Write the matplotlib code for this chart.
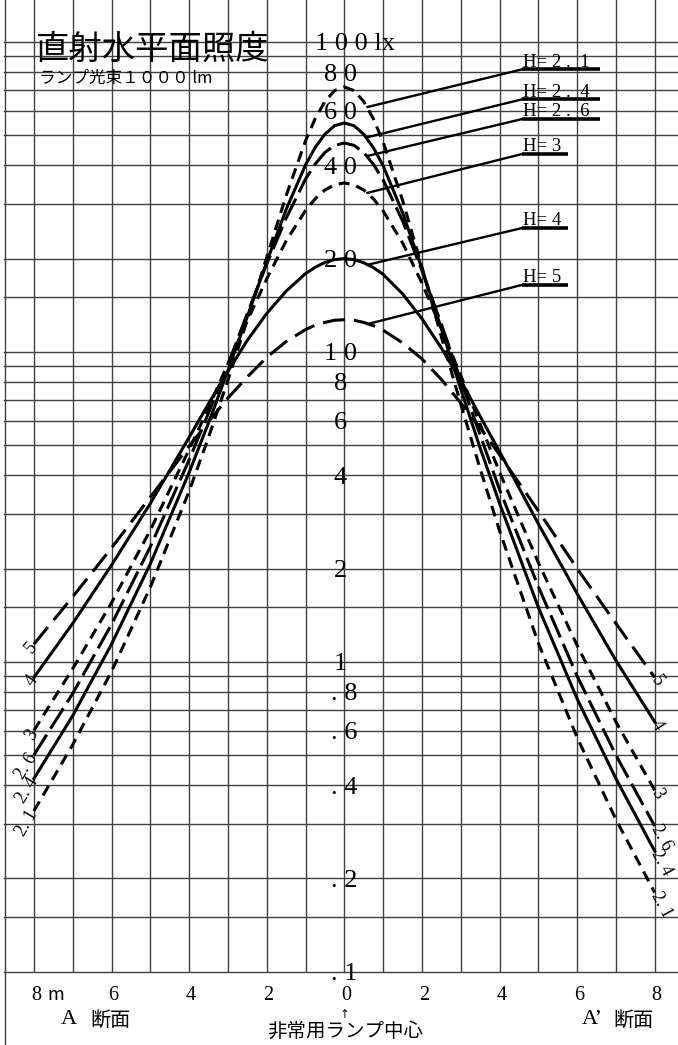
import math
import matplotlib.pyplot as plt
import matplotlib.transforms as mtrans
from matplotlib.lines import Line2D

# distance from the lamp centre in metres (A side negative, A' side positive)
dist = [-8, -7, -6, -5, -4, -3.5, -3, -2.5, -2, -1.5, -1, -0.75, -0.5, -0.25,
        0, 0.25, 0.5, 0.75, 1, 1.5, 2, 2.5, 3, 3.5, 4, 5, 6, 7, 8]

# horizontal illuminance (lx), one list per mounting height
lux_h21 = [0.33, 0.54, 0.93, 1.74, 3.55, 5.3, 8.1, 12.7, 20.2, 31.9, 48.0, 56.6, 64.3, 69.7,
           71.6, 69.7, 64.3, 56.5, 47.6, 30.9, 18.8, 11.2, 6.8, 4.2, 2.65, 1.15, 0.57, 0.31, 0.18]
lux_h24 = [0.42, 0.67, 1.14, 2.07, 4.08, 5.9, 8.7, 13.0, 19.5, 28.8, 40.1, 45.7, 50.4, 53.7,
           54.8, 53.7, 50.4, 45.6, 39.9, 28.2, 18.6, 11.9, 7.6, 4.9, 3.25, 1.5, 0.76, 0.42, 0.245]
lux_h26 = [0.5, 0.79, 1.32, 2.35, 4.48, 6.35, 9.1, 13.3, 19.2, 27.0, 36.1, 40.4, 44.0, 46.4,
           47.2, 46.4, 44.0, 40.3, 35.9, 26.5, 18.3, 12.3, 8.1, 5.4, 3.6, 1.75, 0.9, 0.5, 0.295]
lux_h30 = [0.6, 0.95, 1.55, 2.66, 4.84, 6.6, 9.15, 12.6, 17.2, 22.8, 28.6, 31.2, 33.3, 34.6,
           35.1, 34.6, 33.3, 31.2, 28.5, 22.5, 16.7, 11.9, 8.4, 5.85, 4.1, 2.09, 1.13, 0.64, 0.385]
lux_h40 = [0.89, 1.33, 2.05, 3.24, 5.3, 6.8, 8.65, 10.9, 13.3, 15.7, 17.9, 18.75, 19.45, 19.85,
           20.0, 19.85, 19.4, 18.7, 17.8, 15.4, 12.8, 10.3, 8.1, 6.2, 4.77, 2.79, 1.66, 1.01, 0.64]
lux_h50 = [1.14, 1.62, 2.33, 3.4, 4.96, 5.95, 7.1, 8.3, 9.6, 10.8, 11.8, 12.2, 12.45, 12.65,
           12.7, 12.65, 12.45, 12.15, 11.75, 10.7, 9.5, 8.15, 6.85, 5.7, 4.66, 3.07, 2.0, 1.33, 0.89]

series = [lux_h21, lux_h24, lux_h26, lux_h30, lux_h40, lux_h50]
tag_text = ['H= 2 .  1', 'H= 2 .  4', 'H= 2 .  6', 'H= 3', 'H= 4', 'H= 5']
end_text = ['2. 1', '2. 4', '2. 6', '3', '4', '5']

lux_ticks = [100, 80, 60, 40, 20, 10, 8, 6, 4, 2, 1, 0.8, 0.6, 0.4, 0.2, 0.1]
lux_tick_text = ['1 0 0 lx', '8 0', '6 0', '4 0', '2 0', '1 0', '8', '6', '4', '2', '1',
                 '. 8', '. 6', '. 4', '. 2', '. 1']
m_ticks = [-8, -6, -4, -2, 0, 2, 4, 6, 8]
m_tick_text = ['8', '6', '4', '2', '0', '2', '4', '6', '8']

# styles / layout
line_styles = [(0, (3.6, 2.3)), '-', (0, (7.9, 2.3)), (0, (3.6, 2.3)), '-', (0, (7.2, 3.0))]
tag_from = [61.7, 49.3, 42.9, 32.6, 19.1, 12.3]
tag_at = [81.6, 65.3, 56.4, 43.5, 25.1, 16.45]
tag_end = [6.59, 6.59, 6.59, 5.77, 5.77, 5.77]

plt.rcParams['font.family'] = ['Liberation Serif', 'Noto Sans CJK JP']

W, H = 678, 1045
fig = plt.figure(figsize=(W / 100, H / 100), dpi=100)

px_left, px_zero, px_per_m = 4.0, 344.3, 38.8
px_100, px_per_dec, px_bottom = 42.0, 309.9, 971.7


def fx(px):
    return px / W


def fy(py):
    return 1 - py / H


ax = fig.add_axes([fx(px_left), fy(px_bottom), (W - px_left) / W, px_bottom / H])
ax.set_yscale('log')
ax.set_xlim((px_left - px_zero) / px_per_m, (W - px_zero) / px_per_m)
ax.set_ylim(0.1, 10 ** (2 + px_100 / px_per_dec))
ax.set_axis_off()

# grid
grid_lux = [m * 10 ** e for e in (-1, 0, 1) for m in (1, 1.5, 2, 3, 4, 5, 6, 7, 8, 9)] + [100]
for v in grid_lux:
    ax.axhline(v, color='0.25', lw=1.0, zorder=1, clip_on=False)
for x in range(-8, 9):
    ax.axvline(x, color='0.25', lw=1.0, zorder=1)
fig.add_artist(Line2D([fx(4.5), fx(4.5)], [0, 1], color='0.25', lw=1.0))

# curves
for lux, ls in zip(series, line_styles):
    ax.plot(dist, lux, color='black', lw=2.2, ls=ls, zorder=3)

# leaders with underlined tags
for i, txt in enumerate(tag_text):
    ax.plot([0.6, 4.58], [tag_from[i], tag_at[i]], color='black', lw=1.7, zorder=3)
    ax.plot([4.58, tag_end[i]], [tag_at[i], tag_at[i]], color='black', lw=2.6,
            solid_capstyle='butt', zorder=3)
    ax.annotate(txt, (4.6, tag_at[i]), xytext=(0, 2), textcoords='offset points',
                ha='left', va='baseline', fontsize=13.5, zorder=4)


# labels at the ends of the curves, along the line
def seg_angle(p, q):
    a, b = ax.transData.transform([p, q])
    return math.degrees(math.atan2(b[1] - a[1], b[0] - a[0]))


for lux, txt in zip(series, end_text):
    ang = seg_angle((dist[0], lux[0]), (dist[1], lux[1]))
    ax.text(dist[0], lux[0], txt, rotation=ang, rotation_mode='anchor',
            ha='right', va='center', fontsize=13, zorder=4)
    ang = seg_angle((dist[-2], lux[-2]), (dist[-1], lux[-1]))
    ax.text(dist[-1], lux[-1], txt, rotation=ang, rotation_mode='anchor',
            ha='left', va='center', fontsize=13, zorder=4)

# illuminance scale written along the centre line
for v, txt in zip(lux_ticks, lux_tick_text):
    if v == 100:
        x, ha = -0.755, 'left'
    elif v >= 1:
        x, ha = -0.1, 'center'
    else:
        x, ha = 0.33, 'right'
    ax.text(x, v, txt, ha=ha, va='center_baseline', fontsize=19, zorder=4)

# distance scale under the chart
xt = mtrans.blended_transform_factory(ax.transData, fig.transFigure)
for x, txt in zip(m_ticks, m_tick_text):
    ax.text(x + 0.05, fy(996), txt, transform=xt, ha='center', va='center', fontsize=14.5)
fig.text(fx(56), fy(995), 'm', family=['Noto Sans CJK JP'], ha='center', va='center', fontsize=13)
fig.text(fx(345), fy(1014), '↑', family=['DejaVu Sans'], ha='center', va='center', fontsize=8.5)
fig.text(fx(345), fy(1031), '非常用ランプ中心', family=['Noto Sans CJK JP'],
         ha='center', va='center', fontsize=14)
fig.text(fx(61), fy(1020), 'A', ha='left', va='center', fontsize=16)
fig.text(fx(90), fy(1020), '断面', family=['Noto Sans CJK JP'], ha='left', va='center', fontsize=14.5)
fig.text(fx(582), fy(1020), 'A’', ha='left', va='center', fontsize=16)
fig.text(fx(613), fy(1020), '断面', family=['Noto Sans CJK JP'], ha='left', va='center', fontsize=14.5)

# title
fig.text(fx(36), fy(49), '直射水平面照度', family=['Noto Sans CJK JP'],
         ha='left', va='center', fontsize=24)
fig.text(fx(39), fy(78), 'ランプ光束１０００ lm', family=['Noto Sans CJK JP'],
         ha='left', va='center', fontsize=12)

fig.savefig('out.png', dpi=100, facecolor='white')
